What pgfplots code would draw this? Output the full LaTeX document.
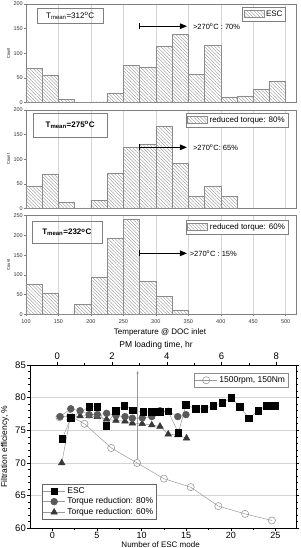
\documentclass[border=0pt]{standalone}
\usepackage{fontspec}
\setmainfont{Liberation Sans}
\usepackage{pgfplots}
\pgfplotsset{compat=1.18}
\usetikzlibrary{patterns.meta,arrows.meta}

\definecolor{hatch}{HTML}{8C8C8C}
\definecolor{frame}{HTML}{808080}
\definecolor{gridc}{HTML}{D4D4D4}
\definecolor{ln}{HTML}{9A9A9A}
\definecolor{circ}{HTML}{5A5A5A}
\definecolor{tri}{HTML}{383838}

\tikzset{
  arr/.style={black, line width=1pt, {Bar[width=6pt]}-{Triangle[length=7pt,width=5.5pt]}},
  atext/.style={anchor=west, font=\fontsize{7.5}{8}\selectfont, inner sep=0pt},
  tbox/.style={draw=frame, line width=0.5pt, font=\fontsize{8}{9}\selectfont, inner sep=0pt},
}
\pgfplotsset{
  histo/.style={
    scale only axis, width=270.7pt, anchor=south west,
    xmin=100, xmax=517,
    xtick={100,150,...,500},
    xmajorgrids, grid style={gridc, line width=0.4pt},
    axis line style={frame, line width=0.5pt},
    tick style={frame, line width=0.4pt},
    major tick length=2pt,
    tick align=outside,
    xtick pos=bottom, ytick pos=left,
    /pgf/number format/assume math mode=true,
    tick label style={font=\fontsize{5.5}{6}\selectfont, text=black!80},
    yticklabel style={inner sep=1pt},
    ylabel={Count},
    ylabel style={at={(axis description cs:-0.065,0.5)}, anchor=center, font=\fontsize{4}{4}\selectfont},
    legend cell align=left,
    legend style={draw=frame, line width=0.4pt, font=\fontsize{8}{9}\selectfont, inner sep=1.2pt, anchor=north east},
  },
  bars/.style={ybar interval, draw=hatch, line width=0.4pt,
    pattern={Lines[angle=-45,distance=2.4pt,line width=0.35pt]}, pattern color=hatch,
    legend image code/.code={\draw[##1] (0pt,-3.5pt) rectangle (20pt,3.5pt);}},
  mklegend/.style={legend cell align=left, legend image code/.code={\draw[mark repeat=2,mark phase=2,##1] plot coordinates {(0pt,0pt) (11pt,0pt) (22pt,0pt)};}},
}

\begin{document}
\begin{tikzpicture}
\path[use as bounding box] (0,0) rectangle (300pt,548pt);

% ---------- Panel 1 ----------
\begin{axis}[histo, at={(26pt,445.3pt)}, height=98.7pt,
  ymin=0, ymax=200, ytick={0,50,...,200},
  xticklabels={}, xtick style={draw=none},
  legend style={at={(rel axis cs:0.960,0.967)}}]
\addplot[bars] coordinates {(100,70)(125,55)(150,7)(175,0)(200,2)(225,19)(250,76)(275,72)(300,114)(325,139)(350,58)(375,116)(400,12)(425,14)(450,28)(475,44)(500,0)};
\addlegendentry{ESC}
\node[tbox, minimum width=66pt, minimum height=15pt] at (axis cs:168,176) {T\textsubscript{mean}=312\textsuperscript{o}C};
\draw[arr] (axis cs:274,155) -- (axis cs:348,155);
\node[atext] at (axis cs:357,155) {>270\textsuperscript{o}C : 70\%};
\end{axis}

% ---------- Panel 2 ----------
\begin{axis}[histo, at={(26pt,339.7pt)}, height=98.3pt,
  ymin=0, ymax=200, ytick={0,50,...,200},
  xticklabels={}, xtick style={draw=none},
  legend style={at={(rel axis cs:0.968,0.97)}}]
\addplot[bars] coordinates {(100,44)(125,70)(150,12)(175,1)(200,16)(225,71)(250,125)(275,131)(300,167)(325,92)(350,24)(375,44)(400,24)(425,0)};
\addlegendentry{reduced torque: 80\%}
\node[tbox, minimum width=74pt, minimum height=24pt, font=\bfseries\fontsize{8}{9}\selectfont] at (axis cs:168,169.5) {T\textsubscript{mean}=275\textsuperscript{o}C};
\draw[arr] (axis cs:274,124) -- (axis cs:348,124);
\node[atext] at (axis cs:357,124) {>270\textsuperscript{o}C: 65\%};
\end{axis}

% ---------- Panel 3 ----------
\begin{axis}[histo, at={(26pt,233.7pt)}, height=98.6pt,
  ymin=0, ymax=250, ytick={0,50,...,250},
  xlabel={Temperature @ DOC inlet},
  xlabel style={at={(axis description cs:0.495,-0.18)}, anchor=center, font=\fontsize{8}{9}\selectfont},
  legend style={at={(rel axis cs:0.969,0.956)}}]
\addplot[bars] coordinates {(100,76)(125,53)(150,0)(175,25)(200,95)(225,194)(250,241)(275,85)(300,45)(325,11)(350,0)};
\addlegendentry{reduced torque: 60\%}
\node[tbox, minimum width=70pt, minimum height=21.6pt, font=\bfseries\fontsize{8}{9}\selectfont] at (axis cs:162.9,207.4) {T\textsubscript{mean}=232\textsuperscript{o}C};
\draw[arr] (axis cs:274,154.6) -- (axis cs:348,154.6);
\node[atext] at (axis cs:352,154.6) {>270\textsuperscript{o}C : 15\%};
\end{axis}

% ---------- Bottom chart: ESC mode axis ----------
\begin{axis}[
  at={(30pt,19.7pt)}, anchor=south west, scale only axis, width=266pt, height=163.3pt,
  xmin=-2.5, xmax=27.3, ymin=60, ymax=85,
  xtick={0,5,...,25}, minor x tick num=1,
  ytick={60,65,...,85}, minor y tick num=4,
  xtick pos=bottom, ytick pos=both, yticklabel pos=left,
  tick align=outside,
  major tick length=3pt, minor tick length=1.8pt,
  axis line style={black, line width=0.8pt},
  tick style={black, line width=0.6pt},
  ymajorgrids, grid style={gridc, line width=0.5pt},
  /pgf/number format/assume math mode=true,
  tick label style={font=\fontsize{9.5}{10}\selectfont},
  yticklabel style={inner sep=1pt},
  xticklabel style={inner sep=1pt, font=\fontsize{9}{9}\selectfont},
  xlabel={Number of ESC mode}, ylabel={Filtration efficiency, \%},
  xlabel style={at={(axis description cs:0.491,-0.079)}, anchor=north, inner sep=0pt, font=\fontsize{8}{8}\selectfont},
  ylabel style={at={(axis description cs:-0.094,0.5)}, anchor=center, font=\fontsize{8.5}{9}\selectfont},
  legend style={at={(rel axis cs:0.971,0.949)}, anchor=north east, draw=black!45, line width=0.4pt,
    font=\fontsize{8.5}{9}\selectfont, inner sep=1pt},
  mklegend,
]
\draw[ln, line width=0.6pt, -{Stealth[length=3pt,width=2.5pt]}] (axis cs:9.55,70.6) -- (axis cs:9.55,84.1);
\addplot[ln, line width=0.5pt, mark=o, mark size=3.6pt, mark options={draw=black!45, fill=white, line width=0.5pt}]
  coordinates {(0.8,77.0)(2.0,77.2)(3.6,76.0)(6.6,72.3)(9.5,70.0)(12.5,67.6)(15.5,66.3)(18.6,63.4)(21.6,62.2)(24.6,61.2)};
\addlegendentry{1500rpm, 150Nm}
\end{axis}

% ---------- Bottom chart: PM loading time axis ----------
\begin{axis}[
  at={(30pt,19.7pt)}, anchor=south west, scale only axis, width=266pt, height=163.3pt,
  xmin=-1.0, xmax=8.72, ymin=60, ymax=85,
  axis x line*=top, axis y line=none,
  xtick={0,2,...,8}, minor x tick num=1,
  tick align=outside, major tick length=3pt, minor tick length=1.8pt,
  axis line style={black, line width=0.8pt},
  tick style={black, line width=0.6pt},
  /pgf/number format/assume math mode=true,
  tick label style={font=\fontsize{9.5}{10}\selectfont},
  xticklabel style={inner sep=2pt},
  xlabel={PM loading time, hr},
  xlabel style={at={(axis description cs:0.474,1.122)}, anchor=center, font=\fontsize{8.5}{9}\selectfont},
  legend style={at={(rel axis cs:0.044,0.055)}, anchor=south west, draw=black!60, line width=0.4pt,
    font=\fontsize{8.5}{9}\selectfont, inner sep=1pt, row sep=-1pt},
  mklegend,
  reverse legend,
]
\addplot[ln, line width=0.5pt, mark=triangle*, mark size=3.8pt, mark options={draw=tri, fill=tri}]
  coordinates {(0.16,70.0)(0.47,76.9)(0.83,77.2)(1.16,77.2)(1.46,77.1)(1.80,76.7)(2.14,76.5)(2.47,76.4)(2.74,76.1)(3.10,76.0)(3.45,75.8)(3.75,75.6)(4.05,74.4)(4.40,74.3)(4.72,73.8)};
\addlegendentry{Torque reduction: 60\%}
\addplot[ln, line width=0.5pt, mark=*, mark size=3.4pt, mark options={draw=circ, fill=circ}]
  coordinates {(0.10,77.1)(0.49,78.3)(0.83,78.0)(1.16,77.4)(1.46,77.4)(1.80,77.6)(2.14,77.25)(2.47,77.1)(2.74,76.85)(3.10,76.9)(3.45,77.1)(3.75,78.0)(4.05,77.9)(4.40,77.1)(4.70,77.4)};
\addlegendentry{Torque reduction: 80\%}
\addplot[ln, line width=0.5pt, mark=square*, mark size=3.3pt, mark options={draw=black, fill=black}]
  coordinates {(0.18,73.7)(0.49,76.9)(1.16,78.6)(1.46,78.6)(1.78,75.7)(2.13,78.0)(2.45,78.8)(2.76,78.1)(3.14,77.8)(3.45,77.8)(3.75,77.8)(4.05,77.9)(4.42,74.6)(4.70,78.9)(5.05,78.3)(5.37,78.3)(5.69,78.8)(6.02,79.2)(6.36,80.0)(6.67,78.6)(7.00,76.85)(7.34,78.0)(7.64,78.8)(7.95,78.8)};
\addlegendentry{ESC}
\end{axis}
\end{tikzpicture}
\end{document}
